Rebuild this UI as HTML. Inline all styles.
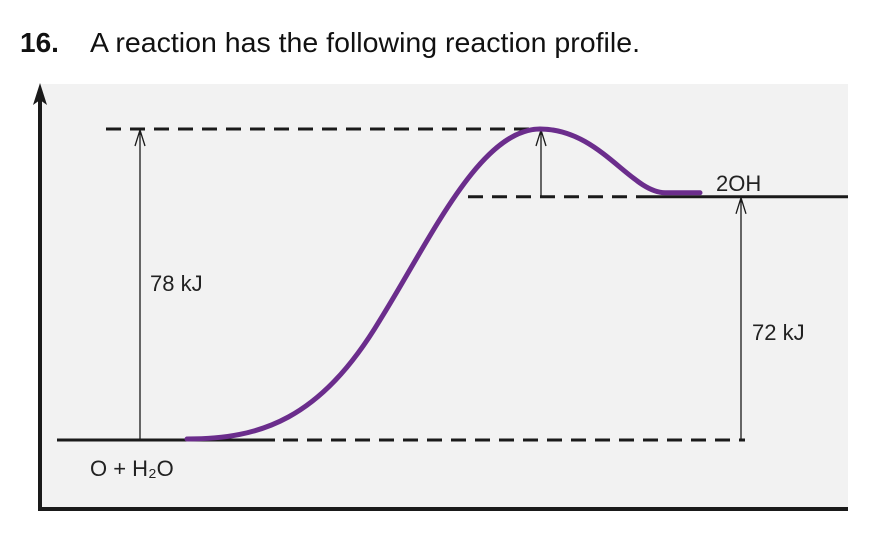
<!DOCTYPE html>
<html><head><meta charset="utf-8"><style>
body{margin:0;background:#fff;width:880px;height:531px;overflow:hidden;font-family:"Liberation Sans",sans-serif}
</style></head><body>
<svg width="880" height="531" xmlns="http://www.w3.org/2000/svg">
<text x="20" y="52" font-size="28" fill="#111"><tspan font-weight="bold">16.</tspan><tspan x="90" textLength="550" lengthAdjust="spacingAndGlyphs">A reaction has the following reaction profile.</tspan></text>
<rect x="40" y="84" width="808" height="424" fill="#f2f2f2"/>
<g id="chart"></g>
</svg>
<script>
const levelNames=["reactants","transition-state","products"];
const levelEnergy=[0,78,61];
const levelLabels=["O + H\u2082O","","2OH"];
const annotations=["78 kJ","72 kJ"];
const ns="http://www.w3.org/2000/svg";
const g=document.getElementById("chart");
const y0=440,y1=129;
function y(v){return y0-(v-levelEnergy[0])*(y0-y1)/(levelEnergy[1]-levelEnergy[0]);}
function el(t,a,p){const e=document.createElementNS(ns,t);for(const k in a)e.setAttribute(k,a[k]);(p||g).appendChild(e);return e;}
const yr=y(levelEnergy[0]),yt=y(levelEnergy[1]),yp=y(levelEnergy[2]);
let e=el("line",{x1:40,y1:95,x2:40,y2:510,stroke:"#1a1a1a","stroke-width":4});


e=el("path",{d:"M40 83 L33 105 L40 100 L47 105 Z",fill:"#1a1a1a"});


e=el("line",{x1:38,y1:509,x2:848,y2:509,stroke:"#1a1a1a","stroke-width":4});


e=el("line",{x1:57,y1:yr,x2:275,y2:yr,stroke:"#1a1a1a","stroke-width":3});


e=el("line",{x1:283,y1:yr,x2:745,y2:yr,stroke:"#1a1a1a","stroke-width":3,"stroke-dasharray":"15 9"});


e=el("line",{x1:106,y1:yt,x2:540,y2:yt,stroke:"#1a1a1a","stroke-width":3,"stroke-dasharray":"15 9"});


e=el("line",{x1:468,y1:yp,x2:640,y2:yp,stroke:"#1a1a1a","stroke-width":3,"stroke-dasharray":"15 9"});


e=el("line",{x1:640,y1:yp,x2:848,y2:yp,stroke:"#1a1a1a","stroke-width":3});


function arrow(x,ya,yb,name){
 const a=el("path",{d:`M${x} ${ya} L${x} ${yb+1} M${x-5} ${yb+17} L${x} ${yb+1} L${x+5} ${yb+17}`,stroke:"#1a1a1a","stroke-width":1.3,fill:"none"});
 
 
}
arrow(140,yr,yt,"activation-energy-arrow");
arrow(541,yp,yt,"reverse-gap-arrow");
arrow(741,yr,yp,"enthalpy-arrow");
const c=el("path",{d:`M187 ${yr-1} C260 ${yr-1} 320 ${yr-20} 380 ${yr-120} C430 ${yr-200} 480 ${yt} 540 ${yt} C600 ${yt} 630 ${yp-5} 665 ${yp-4} L700 ${yp-4}`,stroke:"#6b2d8c","stroke-width":5,fill:"none","stroke-linecap":"round"});


function txt(x,yy,s,name){const t=el("text",{x:x,y:yy,"font-size":22,fill:"#222"});t.textContent=s;
 
 }
txt(150,291,annotations[0],"activation-energy-label");
txt(752,340,annotations[1],"enthalpy-label");
txt(716,191,levelLabels[2],"product-label");
txt(90,476,levelLabels[0],"reactant-label");
</script>
</body></html>
